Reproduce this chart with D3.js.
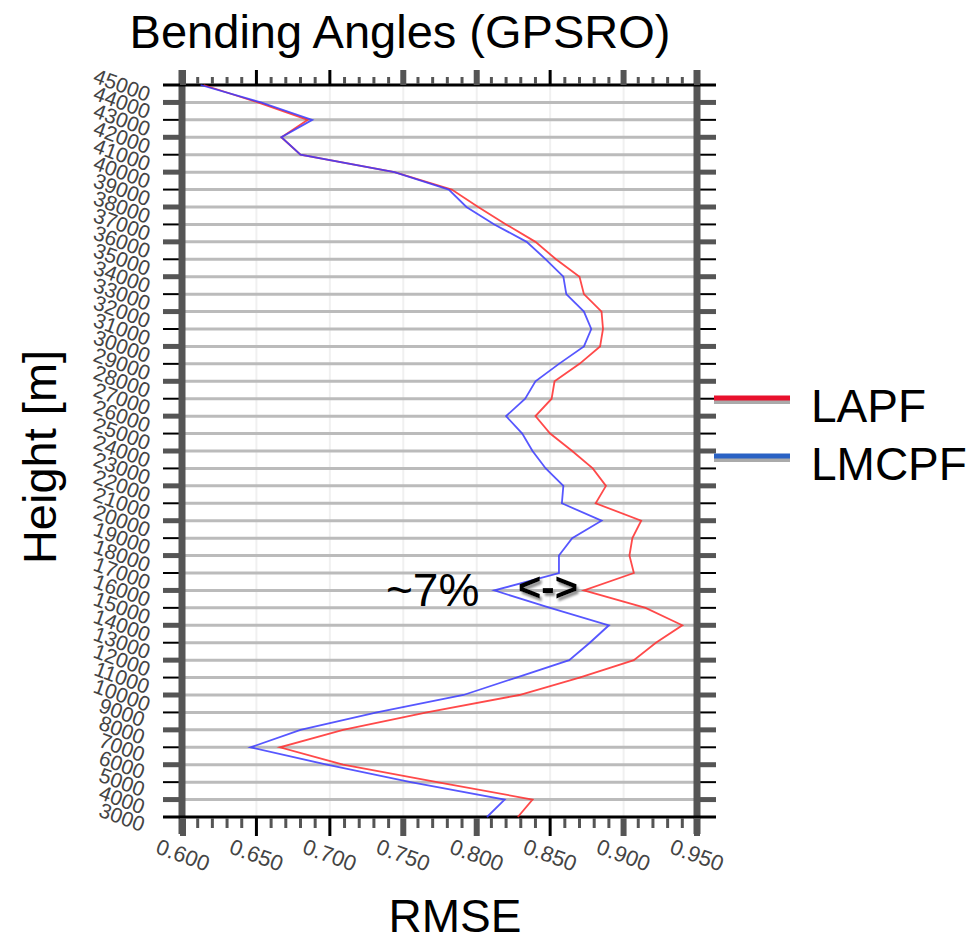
<!DOCTYPE html>
<html><head><meta charset="utf-8">
<script src="https://cdn.jsdelivr.net/npm/d3@7"></script>
<style>body{margin:0;background:#fff}svg{display:block;font-family:"Liberation Sans",Arial,sans-serif}</style>
</head><body>
<svg id="c" width="979" height="942"></svg>
<script>
const heights = d3.range(3000, 46000, 1000);
// values listed from 3000 m up to 45000 m
const lapf = [0.828,0.838,0.773,0.709,0.666,0.709,0.766,0.829,0.870,0.907,0.922,0.940,0.915,0.873,0.907,0.904,0.906,0.912,0.881,0.888,0.879,0.865,0.850,0.840,0.851,0.853,0.870,0.884,0.886,0.885,0.873,0.870,0.854,0.840,0.820,0.801,0.783,0.744,0.680,0.667,0.685,0.651,0.614];
const lmcpf = [0.807,0.819,0.755,0.698,0.646,0.680,0.732,0.791,0.827,0.863,0.877,0.890,0.850,0.812,0.856,0.856,0.865,0.885,0.858,0.859,0.847,0.838,0.831,0.820,0.833,0.840,0.856,0.873,0.878,0.873,0.861,0.859,0.847,0.834,0.812,0.793,0.781,0.744,0.680,0.667,0.688,0.653,0.612];
const xTicks = [0.600,0.650,0.700,0.750,0.800,0.850,0.900,0.950];
const seriesNames = ["LAPF","LMCPF"];
const seriesColors = ["#ff2a2a","#3a3aff"];
const legendColors = ["#e8112d","#2a62c4"];

const svg = d3.select("#c");
const defs = svg.append("defs");
const f = defs.append("filter").attr("id","sh").attr("x","-20%").attr("y","-20%").attr("width","140%").attr("height","160%");
f.append("feDropShadow").attr("dx",2).attr("dy",3).attr("stdDeviation",0.8).attr("flood-color","#888").attr("flood-opacity",0.9);

const x = d3.scaleLinear().domain([0.6,0.95]).range([183,697]);
const y = d3.scaleLinear().domain([3000,45000]).range([817,85]);

// faint vertical grid
svg.append("g").selectAll("line").data(xTicks).join("line")
  .attr("x1",d=>x(d)).attr("x2",d=>x(d)).attr("y1",y(45000)).attr("y2",y(3000))
  .attr("stroke","#f0f0f0").attr("stroke-width",2);
// horizontal grid
svg.append("g").selectAll("line").data(heights.slice(1,-1)).join("line")
  .attr("x1",x(0.6)).attr("x2",x(0.95)).attr("y1",d=>y(d)).attr("y2",d=>y(d))
  .attr("stroke","#bbbbbb").attr("stroke-width",3);

// left / right y ticks
const yt = svg.append("g");
heights.forEach(h=>{
  const odd = (h/1000)%2===1;
  [[163,181],[699,716]].forEach(([a,b])=>{
    yt.append("line").attr("x1",a).attr("x2",b).attr("y1",y(h)).attr("y2",y(h))
      .attr("stroke",odd?"#000":"#555").attr("stroke-width",odd?2:5);
  });
});
// vertical axis bars
[x(0.6)-1, x(0.95)].forEach(px=>{
  svg.append("line").attr("x1",px).attr("x2",px).attr("y1",70).attr("y2",834)
    .attr("stroke","#555").attr("stroke-width",7);
});
// top / bottom axis lines
[y(45000), y(3000)].forEach(py=>{
  svg.append("line").attr("x1",163).attr("x2",716).attr("y1",py).attr("y2",py)
    .attr("stroke","#000").attr("stroke-width",3);
});
// minor ticks
const minor = d3.range(0.61,0.95,0.01).filter(v=>Math.abs(v*20-Math.round(v*20))>1e-6);
svg.append("g").selectAll("line").data(minor).join("line")
  .attr("x1",d=>x(d)).attr("x2",d=>x(d)).attr("y1",818).attr("y2",828)
  .attr("stroke","#555").attr("stroke-width",3);
svg.append("g").selectAll("line").data(minor).join("line")
  .attr("x1",d=>x(d)).attr("x2",d=>x(d)).attr("y1",77).attr("y2",84)
  .attr("stroke","#555").attr("stroke-width",3);
// major ticks
const majStyle = [1,0,0,1,1,0,1,1];
xTicks.forEach((v,i)=>{
  svg.append("line").attr("x1",x(v)).attr("x2",x(v)).attr("y1",818).attr("y2",836)
    .attr("stroke",majStyle[i]?"#555":"#000").attr("stroke-width",majStyle[i]?6:3);
  svg.append("line").attr("x1",x(v)).attr("x2",x(v)).attr("y1",70).attr("y2",85)
    .attr("stroke",majStyle[i]?"#555":"#000").attr("stroke-width",majStyle[i]?6:3);
});

// x tick labels
svg.append("g").selectAll("text").data(xTicks).join("text")
  .attr("transform",d=>`translate(${x(d)},855) rotate(20)`)
  .attr("text-anchor","middle").attr("dy","0.35em")
  .attr("font-size",22).attr("fill","#444").text(d=>d.toFixed(3));
// y tick labels (dense, overlapping)
svg.append("g").selectAll("text").data(heights).join("text")
  .attr("transform",d=>`translate(122,${y(d)}) rotate(20)`)
  .attr("text-anchor","middle").attr("dy","0.35em")
  .attr("font-size",21).attr("fill","#444").text(d=>d);

// series
const line = d3.line().x(d=>x(d[1])).y(d=>y(d[0]));
[lapf,lmcpf].forEach((s,i)=>{
  svg.append("path").datum(heights.map((h,j)=>[h,s[j]]))
    .attr("d",line).attr("fill","none").attr("stroke",seriesColors[i])
    .attr("stroke-width",1.8).attr("stroke-opacity",0.85);
});

// annotation
svg.append("text").attr("x",386).attr("y",606).attr("font-size",46).attr("fill","#000").text("~7%");
svg.append("text").attr("x",548).attr("y",601).attr("text-anchor","middle").attr("font-size",40)
  .attr("font-weight","bold").attr("fill","#000").attr("filter","url(#sh)").text("<->");

// titles
svg.append("text").attr("x",400).attr("y",48).attr("text-anchor","middle").attr("font-size",47).text("Bending Angles (GPSRO)");
svg.append("text").attr("transform","translate(56,457) rotate(-90)").attr("text-anchor","middle").attr("font-size",47).text("Height [m]");
svg.append("text").attr("x",455).attr("y",932).attr("text-anchor","middle").attr("font-size",46).text("RMSE");

// legend
seriesNames.forEach((n,i)=>{
  const ly = 398 + i*58;
  svg.append("line").attr("x1",714).attr("x2",790).attr("y1",ly+4).attr("y2",ly+4).attr("stroke","#aaa").attr("stroke-width",4);
  svg.append("line").attr("x1",714).attr("x2",790).attr("y1",ly).attr("y2",ly).attr("stroke",legendColors[i]).attr("stroke-width",5);
  svg.append("text").attr("x",811).attr("y",ly+24).attr("font-size",46).text(n);
});
</script>
</body></html>
